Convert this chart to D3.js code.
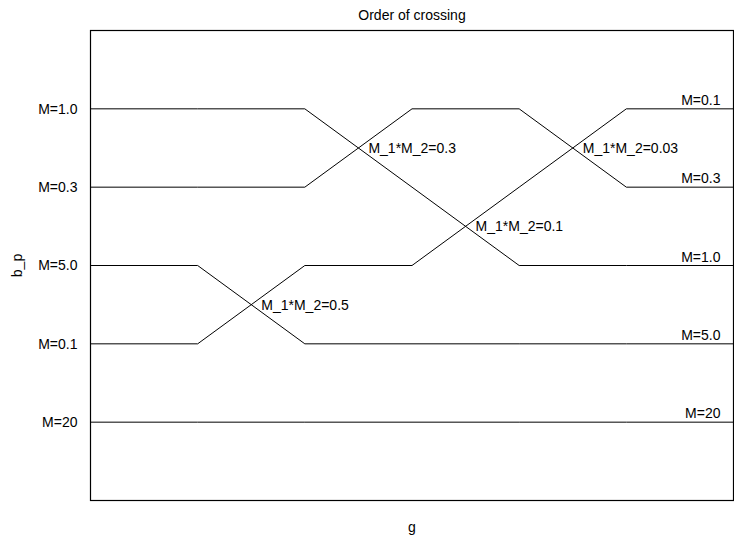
<!DOCTYPE html>
<html>
<head>
<meta charset="utf-8">
<script src="https://cdn.jsdelivr.net/npm/d3@7"></script>
<style>
  html, body { margin: 0; padding: 0; background: #fff; }
  svg { display: block; font-family: "Liberation Sans", Arial, Helvetica, sans-serif; }
</style>
</head>
<body>
<svg id="chart" width="734" height="541"></svg>
<script>
// Ordering of the M values along the vertical axis (level 1 at the bottom)
const levelLabels = ["M=20", "M=0.1", "M=5.0", "M=0.3", "M=1.0"];
const levels = [1, 2, 3, 4, 5];

// Positions along g where each path is sampled
const steps = [0, 1, 2, 3, 4, 5, 6];

// Level of each path at every step; each path keeps its own M name
const seriesNames = ["M=20", "M=5.0", "M=0.1", "M=1.0", "M=0.3"];
const seriesM20  = [1, 1, 1, 1, 1, 1, 1];
const seriesM50  = [3, 3, 2, 2, 2, 2, 2];
const seriesM01  = [2, 2, 3, 3, 4, 5, 5];
const seriesM10  = [5, 5, 5, 4, 3, 3, 3];
const seriesM03  = [4, 4, 4, 5, 5, 4, 4];
const seriesValues = [seriesM20, seriesM50, seriesM01, seriesM10, seriesM03];

// Crossing points and their products
const crossX = [1.5, 2.5, 3.5, 4.5];
const crossY = [2.5, 4.5, 3.5, 4.5];
const crossLabels = ["M_1*M_2=0.5", "M_1*M_2=0.3", "M_1*M_2=0.1", "M_1*M_2=0.03"];

const svg = d3.select("#chart");
const margin = { left: 90.5, right: 733.5, top: 30.5, bottom: 500.5 };

const x = d3.scaleLinear().domain([0, 6]).range([margin.left, margin.right]);
const y = d3.scaleLinear().domain([0, 6]).range([margin.bottom, margin.top]);

const fontSize = "14px";

// Title
svg.append("text")
  .attr("x", (margin.left + margin.right) / 2)
  .attr("y", 20)
  .attr("text-anchor", "middle")
  .style("font-size", fontSize)
  .text("Order of crossing");

// Paths
const line = d3.line()
  .x((d, i) => x(steps[i]))
  .y(d => y(d));

svg.append("g")
  .selectAll("path")
  .data(seriesValues)
  .join("path")
  .attr("d", line)
  .attr("fill", "none")
  .attr("stroke", "#000")
  .attr("stroke-width", 1);

// Left axis with M labels
const yAxis = d3.axisLeft(y)
  .tickValues(levels)
  .tickFormat(d => levelLabels[d - 1])
  .tickSize(0)
  .tickPadding(13);

const ya = svg.append("g")
  .attr("transform", `translate(${margin.left},0)`)
  .call(yAxis);
ya.select(".domain").remove();
ya.selectAll("text")
  .style("font-size", fontSize)
  .style("font-family", "'Liberation Sans', Arial, Helvetica, sans-serif")
  .attr("fill", "#000");

// Name of each path at its right end
svg.append("g")
  .selectAll("text")
  .data(seriesValues)
  .join("text")
  .attr("x", x(6) - 13)
  .attr("y", d => y(d[d.length - 1]) - 4)
  .attr("text-anchor", "end")
  .style("font-size", fontSize)
  .text((d, i) => seriesNames[i]);

// Crossing annotations
svg.append("g")
  .selectAll("text")
  .data(crossLabels)
  .join("text")
  .attr("x", (d, i) => x(crossX[i]) + 10)
  .attr("y", (d, i) => y(crossY[i]))
  .attr("dy", "0.35em")
  .style("font-size", fontSize)
  .text(d => d);

// Plot frame
svg.append("rect")
  .attr("x", margin.left)
  .attr("y", margin.top)
  .attr("width", margin.right - margin.left)
  .attr("height", margin.bottom - margin.top)
  .attr("fill", "none")
  .attr("stroke", "#000")
  .attr("stroke-width", 1.2);

// Axis titles
svg.append("text")
  .attr("x", (margin.left + margin.right) / 2)
  .attr("y", 532)
  .attr("text-anchor", "middle")
  .style("font-size", fontSize)
  .text("g");

svg.append("text")
  .attr("transform", `translate(22,${(margin.top + margin.bottom) / 2}) rotate(-90)`)
  .attr("text-anchor", "middle")
  .style("font-size", fontSize)
  .text("b_p");
</script>
</body>
</html>
